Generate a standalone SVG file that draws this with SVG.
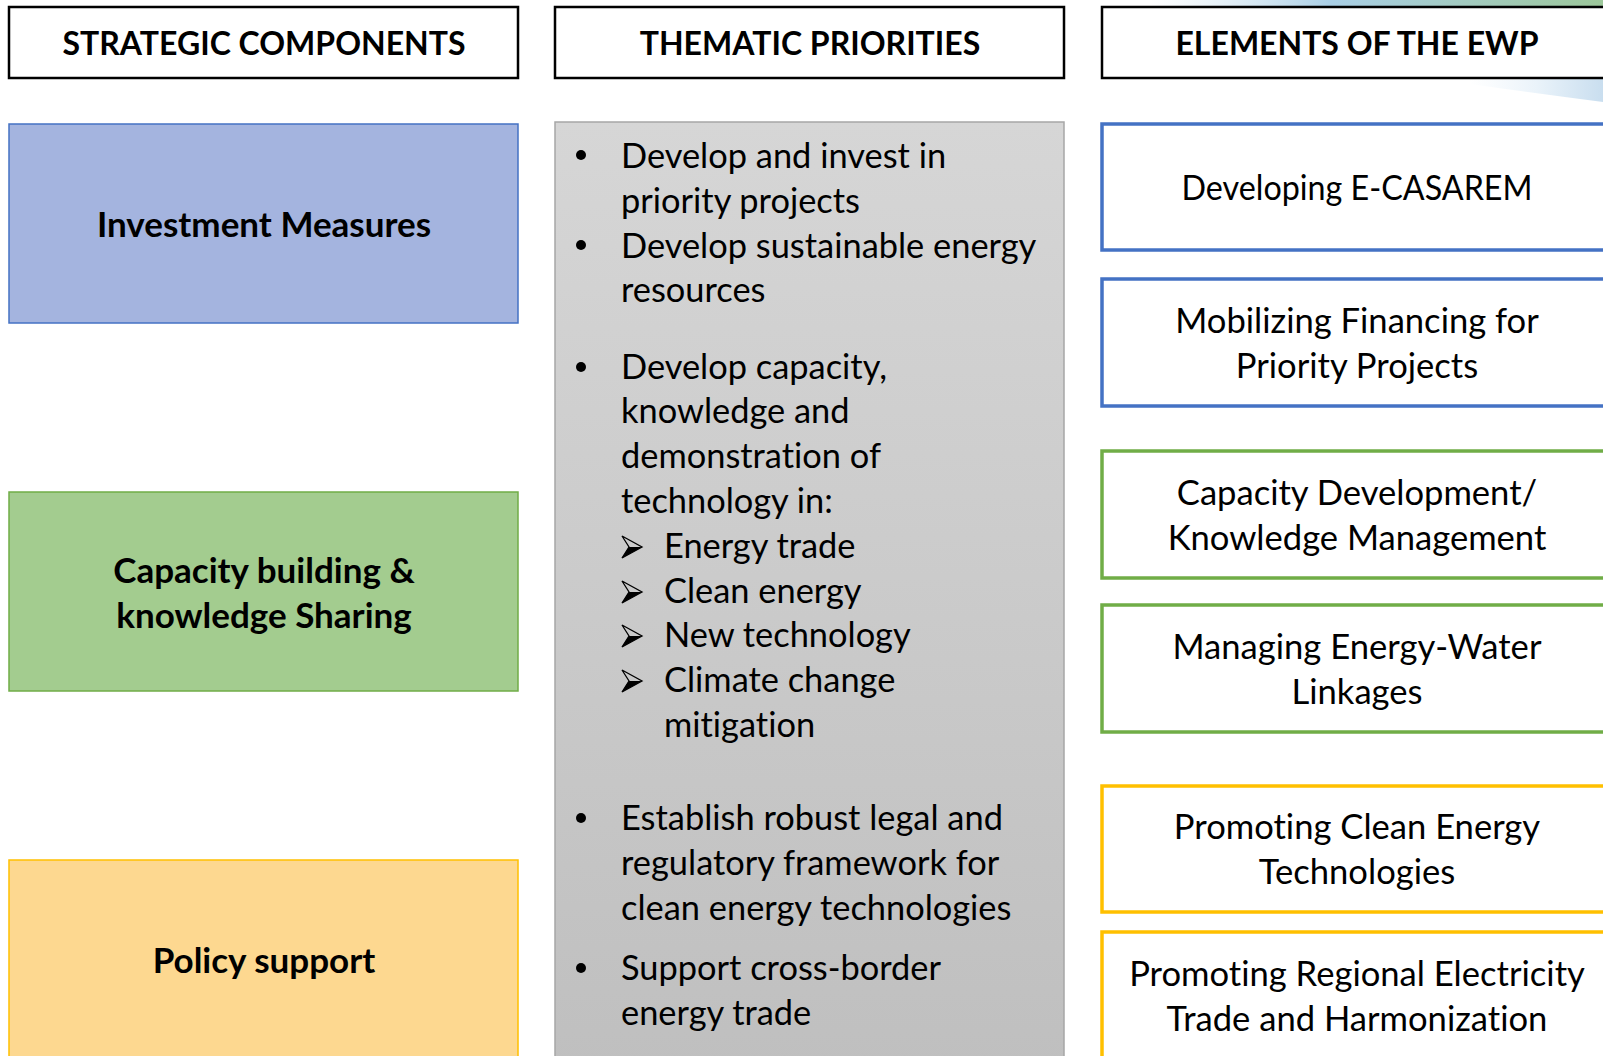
<svg xmlns="http://www.w3.org/2000/svg" width="1603" height="1056" viewBox="0 0 1603 1056">
<defs>
<linearGradient id="gray" x1="0" y1="0" x2="0" y2="1">
<stop offset="0" stop-color="#d6d6d6"/>
<stop offset="1" stop-color="#bfbfbf"/>
</linearGradient>
<linearGradient id="sky" x1="0" y1="0" x2="1" y2="0">
<stop offset="0" stop-color="#cfe4f2" stop-opacity="0"/>
<stop offset="0.4" stop-color="#a9cfe6"/>
<stop offset="1" stop-color="#9cc79a"/>
</linearGradient>
<linearGradient id="swoosh" x1="0" y1="0" x2="1" y2="0">
<stop offset="0" stop-color="#eef5fb" stop-opacity="0"/>
<stop offset="0.5" stop-color="#eaf3fa"/>
<stop offset="1" stop-color="#c9deef"/>
</linearGradient>
<path id="arrowhead" d="M0 0 L20 11 L0 22 L7 11 Z"/>
</defs>
<style>
text { font-family: Lato, "Open Sans", "Liberation Sans", sans-serif; fill: #000; font-variant-ligatures: none; }
.hdr { font-size: 32px; font-weight: bold; text-anchor: middle; }
.hbox { fill: #fff; stroke: #000; stroke-width: 2.5; }
.lbl { font-size: 35px; font-weight: bold; text-anchor: middle; }
.body { font-size: 34.4px; }
.rt { font-size: 34.6px; text-anchor: middle; }
.blue { fill: #fff; stroke: #4472c4; stroke-width: 3.5; }
.green { fill: #fff; stroke: #70ad47; stroke-width: 3.5; }
.gold { fill: #fff; stroke: #ffc000; stroke-width: 3.5; }
.arr-o { fill: none; stroke: #000; stroke-width: 1.3; stroke-linejoin: miter; }
.arr-f { fill: #000; }
</style>
<rect width="1603" height="1056" fill="#fff"/>
<!-- decorative background top-right -->
<rect x="1150" y="0" width="453" height="7" fill="url(#sky)"/>
<path d="M1470 80 L1603 78 L1603 102 Q1540 94 1470 84 Z" fill="url(#swoosh)"/>

<g id="header-strategic">
<rect class="hbox" x="9" y="7" width="509" height="71"/>
<text class="hdr" x="264" y="55">STRATEGIC COMPONENTS</text>
</g>
<g id="header-thematic">
<rect class="hbox" x="555" y="7" width="509" height="71"/>
<text class="hdr" x="810" y="55">THEMATIC PRIORITIES</text>
</g>
<g id="header-elements">
<rect class="hbox" x="1102" y="7" width="520" height="71"/>
<text class="hdr" x="1357" y="55">ELEMENTS OF THE EWP</text>
</g>

<g id="investment-measures">
<rect x="9" y="124" width="509" height="199" fill="#a4b4df" stroke="#4472c4" stroke-width="1.5"/>
<text class="lbl" x="264" y="237">Investment Measures</text>
</g>
<g id="capacity-building">
<rect x="9" y="492" width="509" height="199" fill="#a3cc8f" stroke="#70ad47" stroke-width="1.5"/>
<text class="lbl" x="264" y="583">Capacity building &amp;</text>
<text class="lbl" x="264" y="628">knowledge Sharing</text>
</g>
<g id="policy-support">
<rect x="9" y="860" width="509" height="210" fill="#fdd890" stroke="#ffc000" stroke-width="1.5"/>
<text class="lbl" x="264" y="973">Policy support</text>
</g>

<g id="thematic-priorities">
<rect x="555" y="122" width="509" height="950" fill="url(#gray)" stroke="#a6a6a6" stroke-width="1.5"/>
<circle cx="581" cy="155" r="5"/>
<text class="body" x="621" y="168">Develop and invest in</text>
<text class="body" x="621" y="213">priority projects</text>
<circle cx="581" cy="245" r="5"/>
<text class="body" x="621" y="258">Develop sustainable energy</text>
<text class="body" x="621" y="302">resources</text>
<circle cx="581" cy="367" r="5"/>
<text class="body" x="621" y="379">Develop capacity,</text>
<text class="body" x="621" y="423">knowledge and</text>
<text class="body" x="621" y="468">demonstration of</text>
<text class="body" x="621" y="513">technology in:</text>
<g transform="translate(622 536)"><use href="#arrowhead" class="arr-o"/><path class="arr-f" d="M7 11 L20 11 L0 22 Z"/></g>
<text class="body" x="664" y="558">Energy trade</text>
<g transform="translate(622 581)"><use href="#arrowhead" class="arr-o"/><path class="arr-f" d="M7 11 L20 11 L0 22 Z"/></g>
<text class="body" x="664" y="603">Clean energy</text>
<g transform="translate(622 625)"><use href="#arrowhead" class="arr-o"/><path class="arr-f" d="M7 11 L20 11 L0 22 Z"/></g>
<text class="body" x="664" y="647">New technology</text>
<g transform="translate(622 670)"><use href="#arrowhead" class="arr-o"/><path class="arr-f" d="M7 11 L20 11 L0 22 Z"/></g>
<text class="body" x="664" y="692">Climate change</text>
<text class="body" x="664" y="737">mitigation</text>
<circle cx="581" cy="818" r="5"/>
<text class="body" x="621" y="830">Establish robust legal and</text>
<text class="body" x="621" y="875">regulatory framework for</text>
<text class="body" x="621" y="920">clean energy technologies</text>
<circle cx="581" cy="968" r="5"/>
<text class="body" x="621" y="980">Support cross-border</text>
<text class="body" x="621" y="1025">energy trade</text>
</g>

<g id="developing-e-casarem">
<rect class="blue" x="1102" y="124" width="520" height="126"/>
<text class="rt" x="1357" y="200" textLength="351" lengthAdjust="spacingAndGlyphs">Developing E-CASAREM</text>
</g>
<g id="mobilizing-financing">
<rect class="blue" x="1102" y="279" width="520" height="127"/>
<text class="rt" x="1357" y="333">Mobilizing Financing for</text>
<text class="rt" x="1357" y="378">Priority Projects</text>
</g>
<g id="capacity-development">
<rect class="green" x="1102" y="451" width="520" height="127"/>
<text class="rt" x="1357" y="505">Capacity Development/</text>
<text class="rt" x="1357" y="550">Knowledge Management</text>
</g>
<g id="energy-water">
<rect class="green" x="1102" y="605" width="520" height="127"/>
<text class="rt" x="1357" y="659">Managing Energy-Water</text>
<text class="rt" x="1357" y="704">Linkages</text>
</g>
<g id="clean-energy-tech">
<rect class="gold" x="1102" y="786" width="520" height="126"/>
<text class="rt" x="1357" y="839">Promoting Clean Energy</text>
<text class="rt" x="1357" y="884">Technologies</text>
</g>
<g id="regional-electricity">
<rect class="gold" x="1102" y="932" width="520" height="140"/>
<text class="rt" x="1357" y="986">Promoting Regional Electricity</text>
<text class="rt" x="1357" y="1031">Trade and Harmonization</text>
</g>

<g id="connectors"/>
</svg>
